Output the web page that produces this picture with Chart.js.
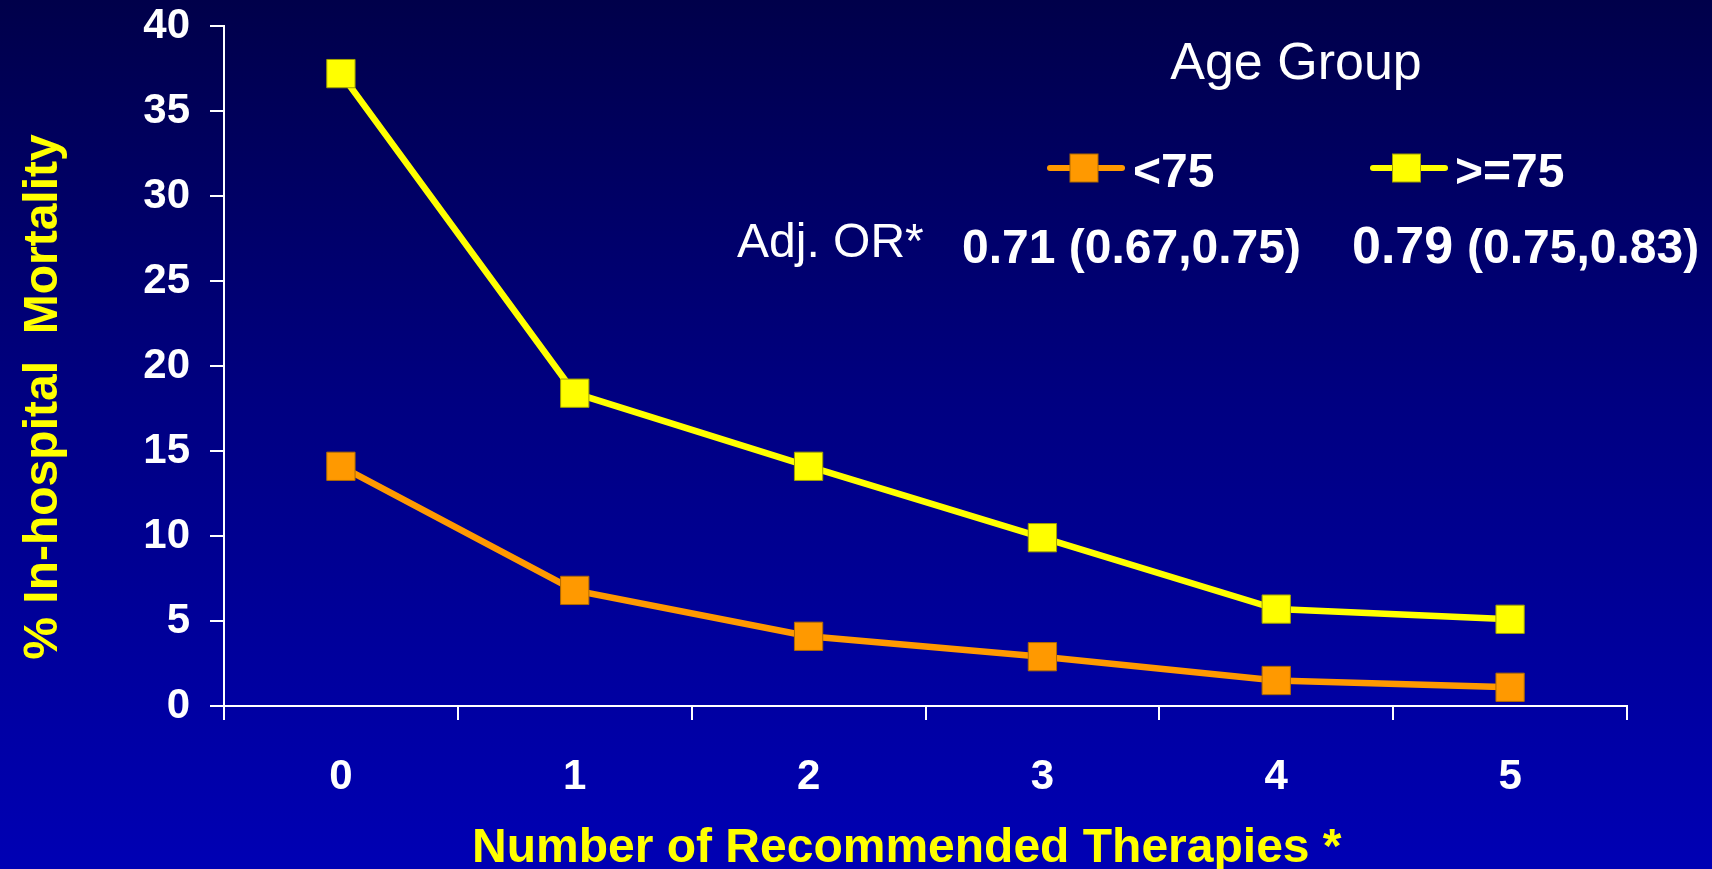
<!DOCTYPE html>
<html>
<head>
<meta charset="utf-8">
<script src="https://cdn.jsdelivr.net/npm/chart.js@4.4.0/dist/chart.umd.min.js"></script>
<style>
  html, body { margin: 0; padding: 0; }
  body { width: 1712px; height: 869px; overflow: hidden;
         background: linear-gradient(to bottom, #00004a 0%, #000080 45%, #0000b4 100%); }
  canvas { display: block; }
</style>
</head>
<body>
<canvas id="c" width="1712" height="869"></canvas>
<script>
// ---- data ----
const categories = ['0', '1', '2', '3', '4', '5'];
const under75 = [14.1, 6.8, 4.1, 2.9, 1.5, 1.1];
const over75 = [37.2, 18.4, 14.1, 9.9, 5.7, 5.1];
const seriesLabels = ['<75', '>=75'];
const yTicks = [0, 5, 10, 15, 20, 25, 30, 35, 40];
const orText = ['0.71 (0.67,0.75)', '0.79', '(0.75,0.83)'];
const yTitle = '% In-hospital  Mortality';
const xTitle = 'Number of Recommended Therapies *';
const legendTitle = 'Age Group';
const orLabel = 'Adj. OR*';

const FONT = '"Liberation Sans", Arial, Helvetica, sans-serif';
const ORANGE = '#ff9900';
const YELLOW = '#ffff00';

function legendMarker(ctx, x1, x2, cx, cy, color, border) {
  ctx.save();
  ctx.strokeStyle = color;
  ctx.lineWidth = 6;
  ctx.lineCap = 'round';
  ctx.beginPath();
  ctx.moveTo(x1, cy); ctx.lineTo(x2, cy);
  ctx.stroke();
  ctx.fillStyle = color;
  ctx.fillRect(cx - 14, cy - 14, 28, 28);
  ctx.lineWidth = 1;
  ctx.strokeStyle = border;
  ctx.strokeRect(cx - 14, cy - 14, 28, 28);
  ctx.restore();
}

const annotations = {
  id: 'annotations',
  afterDraw(chart) {
    const ctx = chart.ctx;
    ctx.save();
    ctx.textBaseline = 'alphabetic';
    // axis titles
    ctx.fillStyle = YELLOW;
    ctx.font = 'bold 48px ' + FONT;
    ctx.textAlign = 'left';
    ctx.fillText(xTitle, 472, 862);
    ctx.save();
    ctx.translate(57, 397);
    ctx.rotate(-Math.PI / 2);
    ctx.textAlign = 'center';
    ctx.fillText(yTitle, 0, 0);
    ctx.restore();

    // legend block
    ctx.fillStyle = '#ffffff';
    ctx.textAlign = 'center';
    ctx.font = '52px ' + FONT;
    ctx.fillText(legendTitle, 1296, 79);

    legendMarker(ctx, 1050, 1122, 1084, 168, ORANGE, '#b06a00');
    legendMarker(ctx, 1373, 1445, 1406.5, 168, YELLOW, '#a0a000');
    ctx.fillStyle = '#ffffff';
    ctx.textAlign = 'left';
    ctx.font = 'bold 48px ' + FONT;
    ctx.fillText(seriesLabels[0], 1133, 187);
    ctx.fillText(seriesLabels[1], 1455, 187);

    ctx.font = '48px ' + FONT;
    ctx.fillText(orLabel, 737, 257);
    ctx.font = 'bold 48px ' + FONT;
    ctx.fillText(orText[0], 962, 263);
    ctx.font = 'bold 52px ' + FONT;
    ctx.fillText(orText[1], 1352, 263);
    ctx.font = 'bold 48px ' + FONT;
    ctx.fillText(orText[2], 1467, 263);
    ctx.restore();
  }
};

new Chart(document.getElementById('c'), {
  type: 'line',
  data: {
    labels: categories,
    datasets: [
      {
        label: seriesLabels[0],
        data: under75,
        borderColor: ORANGE,
        backgroundColor: ORANGE,
        borderWidth: 6.5,
        pointStyle: 'rect',
        pointRadius: 20,
        pointHoverRadius: 20,
        pointBorderWidth: 1,
        pointBorderColor: '#b06a00',
        pointBackgroundColor: ORANGE,
        tension: 0
      },
      {
        label: seriesLabels[1],
        data: over75,
        borderColor: YELLOW,
        backgroundColor: YELLOW,
        borderWidth: 6.5,
        pointStyle: 'rect',
        pointRadius: 20,
        pointHoverRadius: 20,
        pointBorderWidth: 1,
        pointBorderColor: '#a0a000',
        pointBackgroundColor: YELLOW,
        tension: 0
      }
    ]
  },
  options: {
    responsive: false,
    animation: false,
    events: [],
    layout: { padding: { top: 26, right: 85, left: 0, bottom: 0 } },
    plugins: {
      legend: { display: false },
      tooltip: { enabled: false },
      title: { display: false }
    },
    scales: {
      x: {
        type: 'category',
        offset: true,
        grid: {
          offset: true,
          drawOnChartArea: false,
          drawTicks: true,
          tickLength: 14,
          color: '#ffffff',
          lineWidth: 2
        },
        border: { color: '#ffffff', width: 2 },
        ticks: {
          color: '#ffffff',
          font: { family: FONT, size: 42, weight: 'bold' },
          padding: 32,
          maxRotation: 0
        },
        afterFit(scale) {
          scale.height = 163;
          scale.paddingLeft = 0; scale.paddingRight = 0;
        }
      },
      y: {
        min: yTicks[0],
        max: yTicks[yTicks.length - 1],
        afterBuildTicks(scale) { scale.ticks = yTicks.map(v => ({ value: v })); },
        grid: {
          drawOnChartArea: false,
          drawTicks: true,
          tickLength: 14,
          color: '#ffffff',
          lineWidth: 2
        },
        border: { color: '#ffffff', width: 2 },
        ticks: {
          color: '#ffffff',
          font: { family: FONT, size: 42, weight: 'bold' },
          padding: 20
        },
        afterFit(scale) {
          scale.width = 224;
          scale.paddingTop = 0; scale.paddingBottom = 0;
        }
      }
    }
  },
  plugins: [annotations]
});
</script>
</body>
</html>
